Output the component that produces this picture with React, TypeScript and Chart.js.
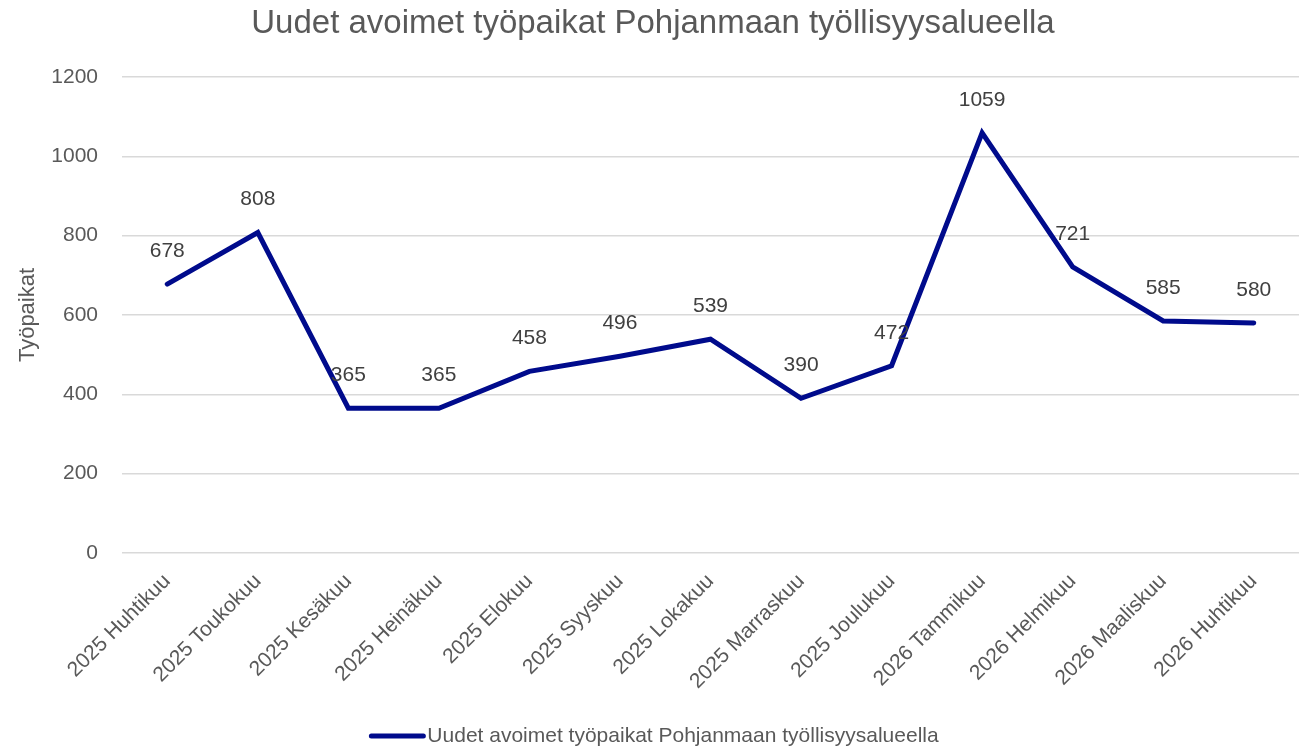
import React, { useEffect, useRef } from "react";
import { Chart, registerables } from "chart.js";

Chart.register(...registerables);

const chartTitle = "Uudet avoimet työpaikat Pohjanmaan työllisyysalueella";
const seriesName = "Uudet avoimet työpaikat Pohjanmaan työllisyysalueella";
const yAxisTitle = "Työpaikat";
const categories = [
  "2025 Huhtikuu",
  "2025 Toukokuu",
  "2025 Kesäkuu",
  "2025 Heinäkuu",
  "2025 Elokuu",
  "2025 Syyskuu",
  "2025 Lokakuu",
  "2025 Marraskuu",
  "2025 Joulukuu",
  "2026 Tammikuu",
  "2026 Helmikuu",
  "2026 Maaliskuu",
  "2026 Huhtikuu",
];
const values = [678, 808, 365, 365, 458, 496, 539, 390, 472, 1059, 721, 585, 580];
const yMin = 0;
const yMax = 1200;
const yStep = 200;

const FONT = "'Liberation Sans', Arial, sans-serif";
const LINE_COLOR = "#000B8C";
const TEXT_COLOR = "#595959";
const LABEL_COLOR = "#404040";

const overlayPlugin = {
  id: "overlay",
  afterDatasetsDraw(chart: any) {
    const ctx = chart.ctx;
    const meta = chart.getDatasetMeta(0);
    ctx.save();
    // data labels
    ctx.font = `21px ${FONT}`;
    ctx.fillStyle = LABEL_COLOR;
    ctx.textAlign = "center";
    ctx.textBaseline = "middle";
    meta.data.forEach((pt: any, i: number) => {
      ctx.fillText(String(values[i]), pt.x, pt.y - 33);
    });
    // title
    ctx.font = `33px ${FONT}`;
    ctx.fillStyle = TEXT_COLOR;
    ctx.fillText(chartTitle, 653, 24);
    // y axis title
    ctx.save();
    ctx.translate(28, (chart.chartArea.top + chart.chartArea.bottom) / 2);
    ctx.rotate(-Math.PI / 2);
    ctx.font = `22px ${FONT}`;
    ctx.fillText(yAxisTitle, 0, 0);
    ctx.restore();
    // legend
    ctx.font = `21px ${FONT}`;
    const tw = ctx.measureText(seriesName).width;
    const lineW = 52;
    const gap = 4;
    const total = lineW + gap + tw;
    const x0 = 655 - total / 2;
    const ly = 736;
    ctx.strokeStyle = LINE_COLOR;
    ctx.lineWidth = 5;
    ctx.lineCap = "round";
    ctx.beginPath();
    ctx.moveTo(x0, ly);
    ctx.lineTo(x0 + lineW, ly);
    ctx.stroke();
    ctx.textAlign = "left";
    ctx.fillStyle = TEXT_COLOR;
    ctx.fillText(seriesName, x0 + lineW + gap, ly);
    ctx.restore();
  },
};

export default function App() {
  const ref = useRef<HTMLCanvasElement | null>(null);
  useEffect(() => {
    document.body.style.margin = "0";
    const chart = new Chart(ref.current as HTMLCanvasElement, {
      type: "line",
      data: {
        labels: categories,
        datasets: [
          {
            label: seriesName,
            data: values,
            borderColor: LINE_COLOR,
            backgroundColor: LINE_COLOR,
            borderWidth: 5,
            pointRadius: 0,
            pointHoverRadius: 0,
            tension: 0,
            borderCapStyle: "round",
            borderJoinStyle: "miter",
          },
        ],
      },
      options: {
        responsive: false,
        animation: false,
        devicePixelRatio: 1,
        layout: { padding: { top: 77, left: 0, right: 10, bottom: 0 } },
        plugins: {
          legend: { display: false },
          title: { display: false },
          tooltip: { enabled: false },
        },
        scales: {
          x: {
            type: "category",
            offset: true,
            grid: { display: false },
            border: { display: false },
            ticks: {
              color: TEXT_COLOR,
              font: { family: FONT, size: 21 },
              minRotation: 45,
              maxRotation: 45,
              padding: 8,
              autoSkip: false,
            },
            afterFit: (s: any) => {
              s.height = 195;
            },
          },
          y: {
            min: yMin,
            max: yMax,
            grid: { color: "#D9D9D9", lineWidth: 1.5, drawTicks: false },
            border: { display: false },
            ticks: {
              stepSize: yStep,
              color: TEXT_COLOR,
              font: { family: FONT, size: 21 },
              padding: 24,
              callback: (v: any) => String(v),
            },
            afterFit: (s: any) => {
              s.width = 122;
            },
          },
        },
      },
      plugins: [overlayPlugin],
    });
    return () => chart.destroy();
  }, []);
  return (
    <canvas
      ref={ref}
      width={1309}
      height={748}
      style={{ display: "block", position: "fixed", left: 0, top: 0 }}
    />
  );
}
